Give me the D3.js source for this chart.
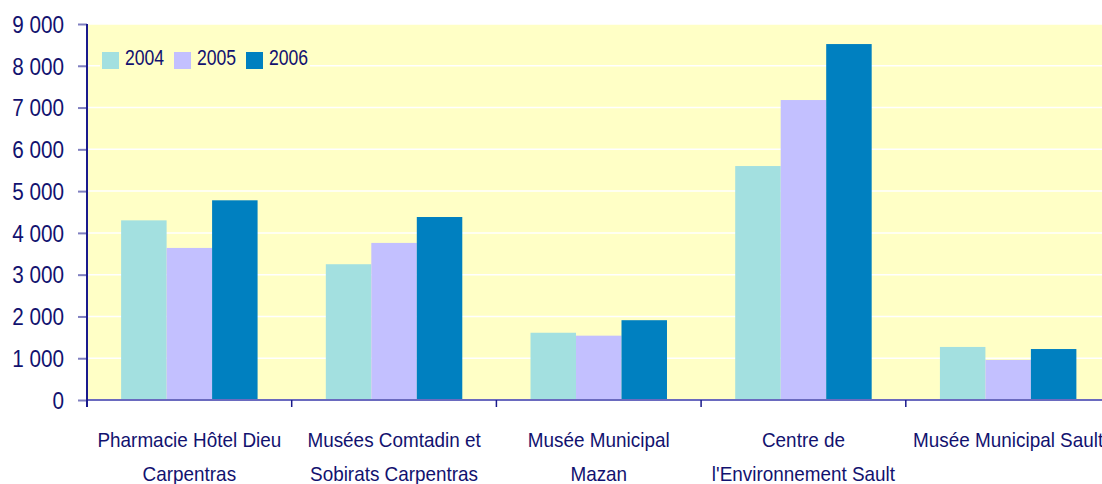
<!DOCTYPE html>
<html>
<head>
<meta charset="utf-8">
<script src="https://cdnjs.cloudflare.com/ajax/libs/d3/7.8.5/d3.min.js"></script>
<style>
body{margin:0;background:#fff;}
svg{display:block;}
text{font-family:"Liberation Sans",Arial,sans-serif;fill:#12126f;}
</style>
</head>
<body>
<div id="chart"></div>
<script>

// data
const categories=["Pharmacie Hôtel Dieu Carpentras","Musées Comtadin et Sobirats Carpentras","Musée Municipal Mazan","Centre de l'Environnement Sault","Musée Municipal Sault"];
const categoryLines=[["Pharmacie Hôtel Dieu","Carpentras"],["Musées Comtadin et","Sobirats Carpentras"],["Musée Municipal","Mazan"],["Centre de","l'Environnement Sault"],["Musée Municipal Sault"]];
const years=["2004","2005","2006"];
const values2004=[4300,3250,1610,5600,1270];
const values2005=[3640,3760,1540,7180,960];
const values2006=[4780,4380,1910,8520,1220];
const yTicks=[0,1000,2000,3000,4000,5000,6000,7000,8000,9000];

let width=1102;
let height=484;
let plotLeft=87;
let plotTop=24;
let plotBottom=400;
let step=204.7;
let colors=["#a3e0e0","#c3c0ff","#0080c0"];
let navy="#1a1a8c";

let series=[values2004,values2005,values2006];

document.addEventListener('DOMContentLoaded',function(){
    setChart();
});

function setChart(){

let chart=d3.select("#chart")
.append("svg")
.attr("width",width).attr("height",height);

let x0=d3.scaleBand()
.domain(categories)
.range([plotLeft,plotLeft+step*categories.length])
.paddingInner(1.5/4.5)
.paddingOuter(0.75/4.5);

let x1=d3.scaleBand()
.domain(years)
.range([0,x0.bandwidth()]);

let y=d3.scaleLinear()
.domain([0,9000])
.range([plotBottom,plotTop]);

let locale=d3.formatLocale({decimal:",",thousands:" ",grouping:[3],currency:["","€"]});
let fmt=locale.format(",");

// plot background
chart.append("rect")
.attr("x",plotLeft).attr("y",y(9000))
.attr("width",width-plotLeft).attr("height",y(0)-y(9000))
.attr("fill","#ffffc6");

// gridlines
chart.append("g").attr("class","grid")
.selectAll("line")
.data(yTicks.filter(d=>d>0))
.enter()
.append("line")
.attr("x1",plotLeft).attr("x2",width)
.attr("y1",d=>y(d)).attr("y2",d=>y(d))
.attr("stroke","#ffffff")
.attr("stroke-width",1.5);

// bars
let groups=chart.append("g").attr("class","bars")
.selectAll("g")
.data(categories)
.enter()
.append("g")
.attr("transform",d=>"translate("+x0(d)+",0)");

groups.selectAll("rect")
.data((d,i)=>years.map((yr,j)=>({year:yr,value:series[j][i],color:colors[j]})))
.enter()
.append("rect")
.attr("x",d=>x1(d.year))
.attr("y",d=>y(d.value))
.attr("width",x1.bandwidth())
.attr("height",d=>y(0)-y(d.value))
.attr("fill",d=>d.color);

// y axis
let yAxis=d3.axisLeft(y)
.tickValues(yTicks)
.tickSize(9)
.tickPadding(14)
.tickFormat(fmt);

let ya=chart.append("g")
.attr("transform","translate("+plotLeft+",0)")
.call(yAxis);

ya.select(".domain").remove();
ya.selectAll(".tick line").attr("stroke","#7f7fc0").attr("stroke-width",2).attr("x2",-9);
ya.selectAll(".tick text")
.attr("x",0)
.attr("dy","0.36em")
.attr("transform","translate(-23,0) scale(0.9,1)")
.style("font-size","23px")
.style("fill","#12126f");

// x axis baseline
chart.append("line")
.attr("x1",plotLeft).attr("x2",width)
.attr("y1",y(0)).attr("y2",y(0))
.attr("stroke","#6a6abf").attr("stroke-width",2);

// left axis line
chart.append("line")
.attr("x1",plotLeft).attr("x2",plotLeft)
.attr("y1",y(9000)).attr("y2",y(0)+7)
.attr("stroke",navy).attr("stroke-width",2);

// category ticks
chart.append("g").attr("class","xticks")
.selectAll("line")
.data(d3.range(categories.length+1))
.enter()
.append("line")
.attr("x1",i=>plotLeft+i*x0.step()).attr("x2",i=>plotLeft+i*x0.step())
.attr("y1",y(0)).attr("y2",y(0)+7)
.attr("stroke",navy).attr("stroke-width",1.5);

// category labels
let labels=chart.append("g").attr("class","xlabels")
.selectAll("g")
.data(categories)
.enter()
.append("g")
.attr("transform",d=>"translate("+(x0(d)+x0.bandwidth()/2)+",0)");

labels.each(function(d,i){
    let g=d3.select(this);
    categoryLines[i].forEach(function(line,k){
        g.append("text")
        .text(line)
        .attr("text-anchor","middle")
        .attr("transform","translate(0,"+(447+k*34)+") scale(0.9,1)")
        .style("font-size","21px");
    });
});

// legend
let legend=chart.append("g").attr("class","legend");
legend.append("rect")
.attr("x",100).attr("y",44).attr("width",210).attr("height",32)
.attr("fill","#ffffc6");

let items=legend.selectAll("g")
.data(years)
.enter()
.append("g")
.attr("transform",(d,i)=>"translate("+(102+i*72)+",52)");

items.append("rect")
.attr("width",17).attr("height",17)
.attr("fill",(d,i)=>colors[i]);

items.append("text")
.text(d=>d)
.attr("transform","translate(23,13) scale(0.8,1)")
.style("font-size","22px");

}
</script>
</body>
</html>
